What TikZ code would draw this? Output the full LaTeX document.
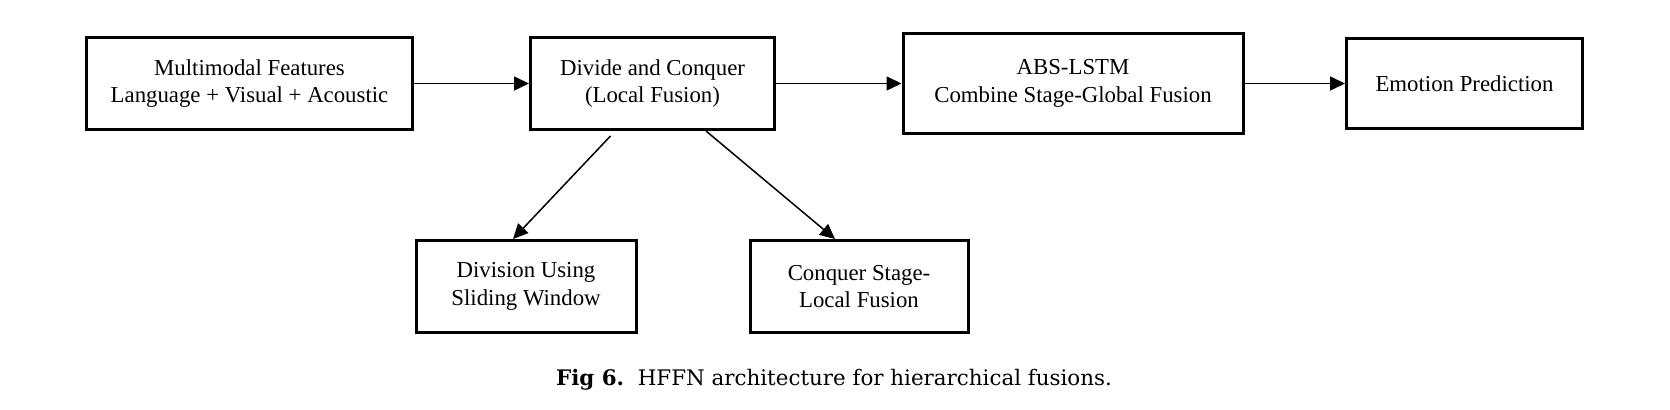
\documentclass[tikz,border=0pt]{standalone}
\usepackage{fontspec}
\setmainfont{Liberation Serif}
\newfontfamily\capfont{DejaVu Serif}
\usetikzlibrary{arrows.meta}

\begin{document}
\begin{tikzpicture}[x=0.5pt,y=-0.5pt,
		stage/.style={draw,line width=1.5pt,align=center,inner sep=0pt,
			font=\fontsize{11.4}{13.9}\selectfont},
		flow/.style={-{Triangle[length=7.5pt,width=7pt]},line width=0.75pt}]
	\useasboundingbox (0,0) rectangle (1670,410); % keep the margins of the figure
	% main pipeline
	\node[stage,minimum width=163pt,minimum height=46pt] (feat) at (249.5,83.5) {Multimodal Features\\Language + Visual + Acoustic};
	\node[stage,minimum width=122pt,minimum height=46pt] (dc) at (652.5,83.5) {Divide and Conquer\\(Local Fusion)};
	\node[stage,minimum width=170pt,minimum height=50pt] (abs) at (1073,83.5) {ABS-LSTM\\Combine Stage-Global Fusion};
	\node[stage,minimum width=118pt,minimum height=45pt] (emo) at (1464.5,83.5) {Emotion Prediction};
	% the two local steps
	\node[stage,minimum width=110pt,minimum height=46pt] (div) at (526,286.5) {Division Using\\Sliding Window};
	\node[stage,minimum width=109pt,minimum height=46pt] (conq) at (859,286.5) {Conquer Stage-\\Local Fusion};
	\draw[flow] (feat) -- (dc);
	\draw[flow] (dc) -- (abs);
	\draw[flow] (abs) -- (emo);
	\draw[flow] ([xshift=-21pt,yshift=-2.5pt]dc.south) -- ([xshift=-6.5pt]div.north);
	\draw[flow] ([xshift=26.75pt]dc.south) -- ([xshift=-12pt]conq.north);
	% caption
	\node[font=\capfont\fontsize{10.7}{13}\selectfont] (cap) at (834,380) {\textbf{Fig 6.}\ \ HFFN architecture for hierarchical fusions.};
\end{tikzpicture}
\end{document}
